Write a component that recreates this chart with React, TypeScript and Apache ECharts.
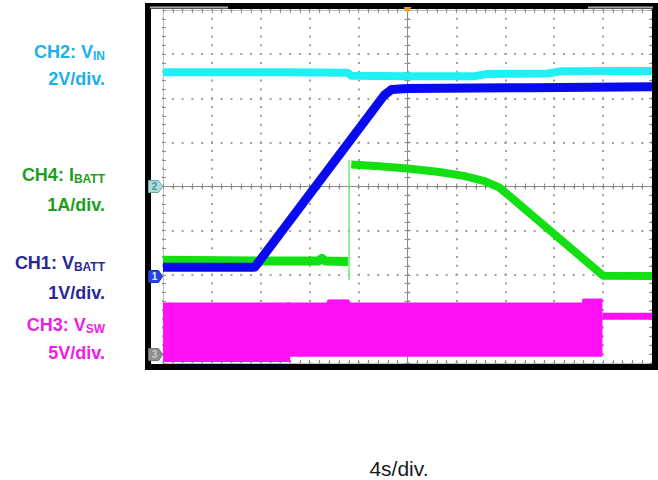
import React, { useEffect, useRef } from "react";
import * as echarts from "echarts";

// ---- scope scales: time relative to trigger (s), vertical in screen divisions ----
const TIME_MIN = -20;
const TIME_MAX = 20;
const TIME_STEP = 4; // 4 s/div
const DIV_MIN = -4;
const DIV_MAX = 4;
const DIV_STEP = 1;

// CH2: V_IN (2 V/div)
const vinTime = [-20, -10, -4.9, -4.6, 0, 5.5, 6.5, 11.5, 12.5, 20];
const vinDiv = [2.59, 2.59, 2.58, 2.51, 2.5, 2.5, 2.55, 2.56, 2.61, 2.62];

// CH1: V_BATT (1 V/div)
const vbattTime = [-20, -12.5, -1.9, -1.3, 0, 10, 20];
const vbattDiv = [-1.83, -1.83, 2.07, 2.2, 2.22, 2.24, 2.26];

// CH4: I_BATT (1 A/div)
const ibattPreTime = [-20, -12.5, -7.3, -7.0, -6.7, -4.85];
const ibattPreDiv = [-1.67, -1.69, -1.69, -1.63, -1.69, -1.7];
const ibattStepTime = [-4.78, -4.78];
const ibattStepDiv = [-2.12, 0.6];
const ibattFastTime = [-4.6, -2.3, 0, 2.6, 4.6, 6.3, 7.5, 16, 20];
const ibattFastDiv = [0.5, 0.46, 0.41, 0.33, 0.24, 0.12, -0.02, -2.02, -2.03];

// CH3: V_SW (5 V/div) switching envelope
const vswEarlyTime = [-20, -9.6];
const vswEarlyTop = [-2.64, -2.64];
const vswEarlyBase = -3.98;
const vswLateTime = [-9.9, -6.6, -6.5, -4.8, -4.7, 14.3, 14.35, 15.95];
const vswLateTop = [-2.64, -2.64, -2.57, -2.57, -2.64, -2.64, -2.55, -2.55];
const vswLateBase = -3.86;
const vswIdleTime = [15.95, 20];
const vswIdleDiv = [-2.94, -2.94];

// channel ground markers (divisions) and trigger position (s)
const markerLabels = ["2", "1", "3"];
const markerLevels = [0, -2.04, -3.81];
const triggerTime = 0;

const zip = (xs: number[], ys: number[]) => xs.map((x, i) => [x, ys[i]]);

const COL_VIN = "#1ff0f4";
const COL_VBATT = "#0a0af0";
const COL_IBATT = "#12e012";
const COL_VSW = "#ff10f5";

const AXIS_GRAY = "#bdbdbd";
const TICK_GRAY = "#8e8e8e";
const DOT_GRAY = "#a0a0a0";
const CENTER_GRAY = "#8a8a8a";

const FONT = "'Liberation Sans', Arial, Helvetica, sans-serif";

function xAx(position: string, onZero: boolean, split: boolean) {
  return {
    type: "value",
    min: TIME_MIN,
    max: TIME_MAX,
    interval: TIME_STEP,
    position,
    axisLabel: { show: false },
    axisLine: { show: true, onZero, lineStyle: { color: onZero ? CENTER_GRAY : AXIS_GRAY, width: 1 } },
    axisTick: { show: true, inside: true, length: 3, lineStyle: { color: TICK_GRAY } },
    minorTick: { show: true, splitNumber: 5, length: 3, lineStyle: { color: TICK_GRAY } },
    splitLine: split
      ? { show: true, lineStyle: { color: DOT_GRAY, width: 2, type: [2, 6.82], dashOffset: 1 } }
      : { show: false },
    minorSplitLine: { show: false },
  };
}

function yAx(position: string, onZero: boolean, split: boolean) {
  return {
    type: "value",
    min: DIV_MIN,
    max: DIV_MAX,
    interval: DIV_STEP,
    position,
    axisLabel: { show: false },
    axisLine: { show: true, onZero, lineStyle: { color: onZero ? CENTER_GRAY : AXIS_GRAY, width: 1 } },
    axisTick: { show: true, inside: true, length: 3, lineStyle: { color: TICK_GRAY } },
    minorTick: { show: true, splitNumber: 5, length: 3, lineStyle: { color: TICK_GRAY } },
    splitLine: split
      ? { show: true, lineStyle: { color: DOT_GRAY, width: 2, type: [2, 7.78], dashOffset: 1 } }
      : { show: false },
    minorSplitLine: { show: false },
  };
}

function label(id: string, main: string, sub: string | null, y: number, color: string) {
  const text = sub ? `{m|${main}}{s|${sub}}` : `{m|${main}}`;
  return {
    type: "text",
    id,
    z: 20,
    style: {
      text,
      x: 105,
      y,
      align: "right",
      verticalAlign: "middle",
      fill: color,
      rich: {
        m: { fontFamily: FONT, fontWeight: "bold", fontSize: 18, lineHeight: 20, fill: color, verticalAlign: "middle" },
        s: { fontFamily: FONT, fontWeight: "bold", fontSize: 12, lineHeight: 12, fill: color, verticalAlign: "bottom" },
      },
    },
  };
}

const lineSeries = (name: string, data: number[][], color: string, width: number, z: number) => ({
  name,
  type: "line",
  data,
  showSymbol: false,
  symbol: "none",
  silent: true,
  z,
  lineStyle: { color, width, cap: "butt", join: "round" },
});

export default function App() {
  const ref = useRef<HTMLDivElement>(null);
  useEffect(() => {
    if (!ref.current) return;
    const chart = echarts.init(ref.current, null, { renderer: "svg" });
    const option: any = {
      animation: false,
      backgroundColor: "#ffffff",
      grid: { left: 163, top: 10, width: 489, height: 353, containLabel: false },
      xAxis: [xAx("bottom", false, true), xAx("top", false, false), xAx("bottom", true, false), xAx("top", true, false)],
      yAxis: [yAx("left", false, true), yAx("right", false, false), yAx("left", true, false), yAx("right", true, false)],
      series: [
        {
          ...lineSeries("CH3 early", zip(vswEarlyTime, vswEarlyTop), COL_VSW, 1, 2),
          areaStyle: { color: COL_VSW, opacity: 1, origin: vswEarlyBase },
        },
        {
          ...lineSeries("CH3 late", zip(vswLateTime, vswLateTop), COL_VSW, 1, 2),
          areaStyle: { color: COL_VSW, opacity: 1, origin: vswLateBase },
        },
        lineSeries("CH3 idle", zip(vswIdleTime, vswIdleDiv), COL_VSW, 7, 2),
        lineSeries("CH2", zip(vinTime, vinDiv), COL_VIN, 8, 3),
        lineSeries("CH4 pre", zip(ibattPreTime, ibattPreDiv), COL_IBATT, 9, 4),
        lineSeries("CH4 step", zip(ibattStepTime, ibattStepDiv), "#6cf06c", 1.5, 4),
        lineSeries("CH4 fast", zip(ibattFastTime, ibattFastDiv), COL_IBATT, 8, 4),
        lineSeries("CH1", zip(vbattTime, vbattDiv), COL_VBATT, 9, 5),
      ],
      graphic: {
        elements: [
          {
            type: "rect",
            id: "frame",
            z: 30,
            shape: { x: 148, y: 6, width: 507, height: 361 },
            style: { fill: "none", stroke: "#000", lineWidth: 6 },
          },
          { type: "rect", id: "barL", z: 31, shape: { x: 150, y: 6.5, width: 78, height: 2 }, style: { fill: "#a8a8a8" } },
          { type: "rect", id: "barR", z: 31, shape: { x: 588, y: 6.5, width: 65, height: 2 }, style: { fill: "#a8a8a8" } },
          label("l1", "CH2: V", "IN", 52, "#1cb0ea"),
          label("l2", "2V/div.", null, 78.5, "#1cb0ea"),
          label("l3", "CH4: I", "BATT", 175, "#1e9e1e"),
          label("l4", "1A/div.", null, 204.5, "#1e9e1e"),
          label("l5", "CH1: V", "BATT", 262.5, "#2a2896"),
          label("l6", "1V/div.", null, 292.5, "#2a2896"),
          label("l7", "CH3: V", "SW", 324.5, "#ee1ce6"),
          label("l8", "5V/div.", null, 352.5, "#ee1ce6"),
          {
            type: "text",
            id: "timebase",
            z: 20,
            style: {
              text: "4s/div.",
              x: 399,
              y: 468,
              align: "center",
              verticalAlign: "middle",
              fontFamily: FONT,
              fontSize: 21,
              fill: "#1a1a1a",
            },
          },
        ],
      },
    };
    chart.setOption(option);

    const markerStyles = [
      { fill: "#a9dcdc", stroke: "#6aa8a8", text: "#5f8f8f" },
      { fill: "#2346e0", stroke: "#1a2fb0", text: "#e8ecff" },
      { fill: "#8e8e8e", stroke: "#707070", text: "#c8c8c8" },
    ];
    const extra: any[] = [];
    markerLevels.forEach((lvl, i) => {
      const p = chart.convertToPixel({ xAxisIndex: 0, yAxisIndex: 0 }, [TIME_MIN, lvl]) as number[];
      const tip = p[0] - 0.5;
      const py = p[1];
      const st = markerStyles[i];
      extra.push({
        type: "polygon",
        id: "mk" + i,
        z: 32,
        shape: {
          points: [
            [tip - 14, py - 6],
            [tip - 4, py - 6],
            [tip, py],
            [tip - 4, py + 6],
            [tip - 14, py + 6],
          ],
        },
        style: { fill: st.fill, stroke: st.stroke, lineWidth: 1 },
      });
      extra.push({
        type: "text",
        id: "mkt" + i,
        z: 33,
        style: {
          text: markerLabels[i],
          x: tip - 8,
          y: py,
          align: "center",
          verticalAlign: "middle",
          fontFamily: FONT,
          fontWeight: "bold",
          fontSize: 10,
          fill: st.text,
        },
      });
    });
    const tp = chart.convertToPixel({ xAxisIndex: 0, yAxisIndex: 0 }, [triggerTime, DIV_MAX]) as number[];
    extra.push({
      type: "polygon",
      id: "trig",
      z: 34,
      shape: { points: [[tp[0] - 4, 7], [tp[0] + 4, 7], [tp[0], 13]] },
      style: { fill: "#f59a1b" },
    });
    chart.setOption({ graphic: { elements: extra } });

    return () => chart.dispose();
  }, []);
  return (
    <div
      ref={ref}
      style={{ position: "fixed", left: 0, top: 0, width: 658, height: 480, background: "#fff" }}
    />
  );
}
